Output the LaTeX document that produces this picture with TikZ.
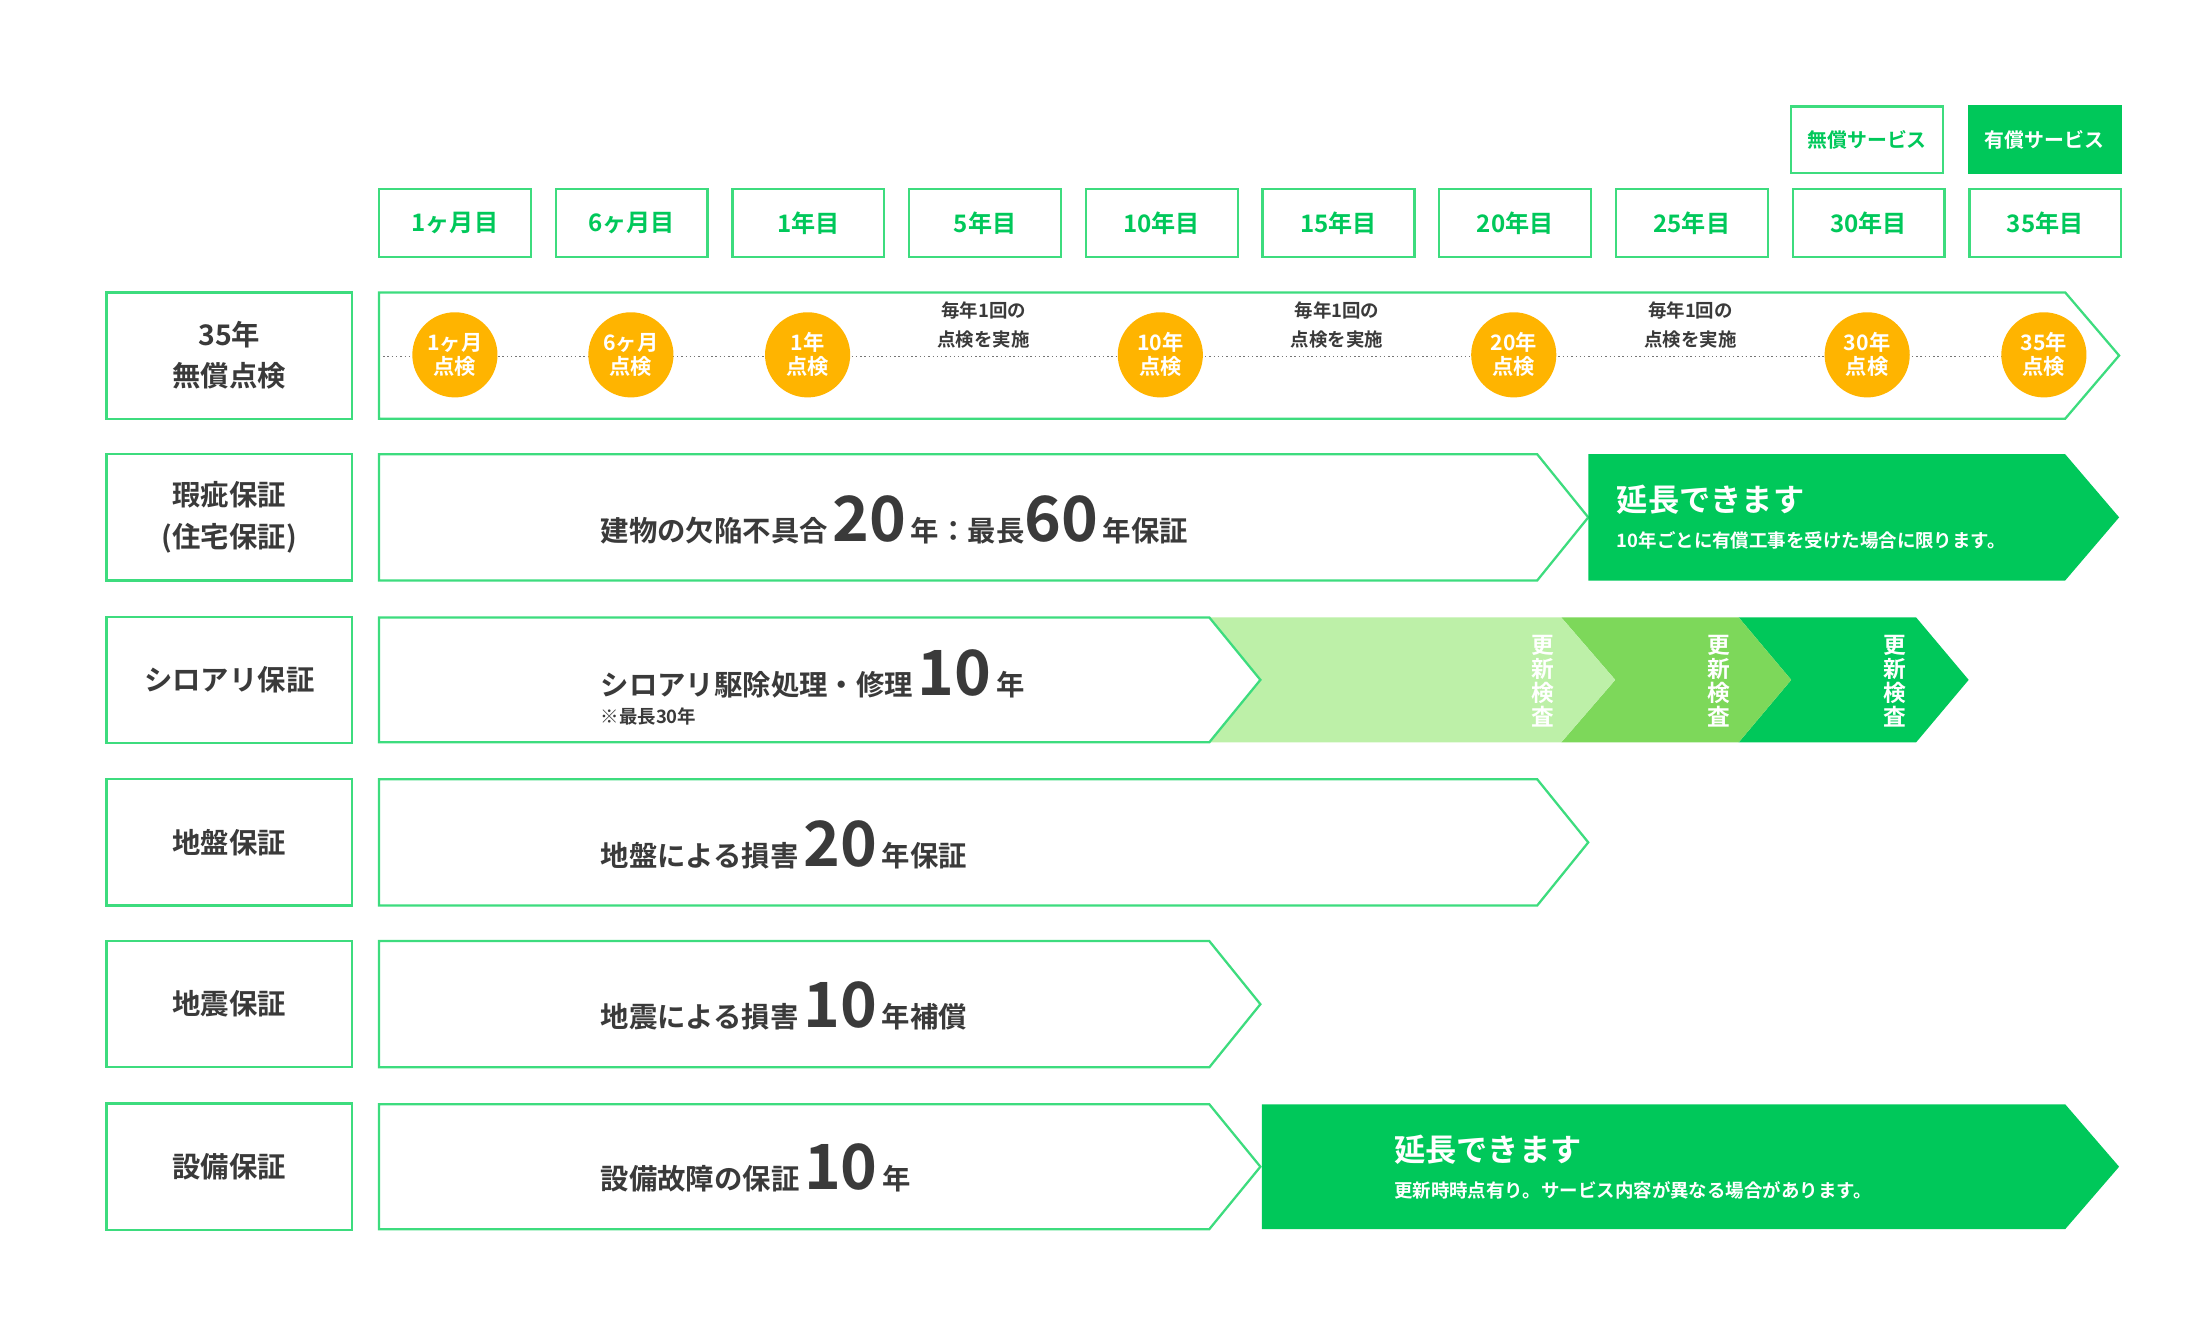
\documentclass[tikz,border=0pt]{standalone}
\usepackage{fontspec}
\setmainfont{Noto Sans CJK JP}[BoldFont={* Bold}]
\definecolor{gb}{HTML}{3DDC7E}
\definecolor{gf}{HTML}{00C85A}
\definecolor{gl}{HTML}{BDF0A8}
\definecolor{gm}{HTML}{7DD85A}
\definecolor{og}{HTML}{FFB400}
\definecolor{tx}{HTML}{3A3A3A}
\newcommand{\bignum}[1]{{\fontsize{44}{44}\selectfont #1}}
\begin{document}
\begin{tikzpicture}[x=1pt,y=-1pt,
  bx/.style={draw=gb,line width=1.6pt,fill=white},
  hdr/.style={bx,minimum width=107pt,minimum height=48pt,inner sep=0,font=\bfseries\fontsize{17}{20}\selectfont,text=gf},
  lbl/.style={bx,minimum width=173pt,minimum height=89pt,inner sep=0,align=center,font=\bfseries\fontsize{20}{29}\selectfont,text=tx},
  circ/.style={circle,fill=og,minimum size=60pt,inner sep=0,align=center,text=white,font=\bfseries\fontsize{15}{17}\selectfont},
  note/.style={align=center,text=tx,font=\bfseries\fontsize{13}{20}\selectfont},
  mt/.style={anchor=west,text=tx,font=\bfseries\fontsize{20}{24}\selectfont,inner sep=0},
  vt/.style={align=center,text=white,font=\bfseries\fontsize{16}{17}\selectfont}]
\useasboundingbox (0,0) rectangle (1550,936);
% legend
\node[hdr,font=\bfseries\fontsize{14}{16}\selectfont,minimum height=47pt] (free) at (1315.5,98.5) {無償サービス};
\node[hdr,fill=gf,draw=gf,text=white,font=\bfseries\fontsize{14}{16}\selectfont,minimum height=47pt] (paid) at (1440.5,98.5) {有償サービス};
% headers
\foreach \t [count=\i] in {1ヶ月目,6ヶ月目,1年目,5年目,10年目,15年目,20年目,25年目,30年目,35年目}{
  \node[hdr] (h\i) at ({320.5+124.5*(\i-1)},157) {\t};}
% left labels
\node[lbl] (l1) at (161.5,250.5) {35年\\無償点検};
\node[lbl] (l2) at (161.5,364.5) {瑕疵保証\\(住宅保証)};
\node[lbl] (l3) at (161.5,479) {シロアリ保証};
\node[lbl] (l4) at (161.5,593.5) {地盤保証};
\node[lbl] (l5) at (161.5,707.5) {地震保証};
\node[lbl] (l6) at (161.5,822) {設備保証};
% row1
\draw[bx] (267,206) -- (1455,206) -- (1493,250.5) -- (1455,295) -- (267,295) -- cycle;
\draw[tx!70,line width=1pt,dotted] (270,251) -- (1440,251);
\foreach \xx/\t [count=\i] in {320.5/1ヶ月,444.5/6ヶ月,569/1年,817.5/10年,1066.5/20年,1315.5/30年,1440/35年}{
  \node[circ] (c\i) at (\xx,250) {\t\\点検};}
\foreach \xx [count=\i] in {693,942,1191}{\node[note] (n\i) at (\xx,229) {毎年1回の\\点検を実施};}
% row2
\draw[bx] (267,320) -- (1083,320) -- (1119,364.5) -- (1083,409) -- (267,409) -- cycle;
\fill[gf] (1119,320) -- (1455,320) -- (1493,364.5) -- (1455,409) -- (1119,409) -- cycle;
\node[mt] (t2) at (423,366) {建物の欠陥不具合\,\bignum{20}\,年：最長\bignum{60}\,年保証};
\node[anchor=west,inner sep=0,text=white,font=\bfseries\fontsize{22}{24}\selectfont] (e2) at (1139,352) {延長できます};
\node[anchor=west,inner sep=0,text=white,font=\bfseries\fontsize{13}{15}\selectfont] (s2) at (1139,381) {10年ごとに有償工事を受けた場合に限ります。};
% row3
\fill[gf] (1225,435) -- (1350,435) -- (1387,479) -- (1350,523) -- (1225,523) -- (1262,479) -- cycle;
\fill[gm] (1100,435) -- (1225,435) -- (1262,479) -- (1225,523) -- (1100,523) -- (1138,479) -- cycle;
\fill[gl] (852,435) -- (1100,435) -- (1138,479) -- (1100,523) -- (852,523) -- (888,479) -- cycle;
\draw[bx] (267,435) -- (852,435) -- (888,479) -- (852,523) -- (267,523) -- cycle;
\foreach \xx [count=\i] in {1087,1211,1335}{\node[vt] (v\i) at (\xx,480) {更\\新\\検\\査};}
\node[mt] (t3) at (423,475) {シロアリ駆除処理・修理\,\bignum{10}\,年};
\node[mt,font=\bfseries\fontsize{13}{15}\selectfont] (t3b) at (423,505) {※最長30年};
% row4
\draw[bx] (267,549) -- (1083,549) -- (1119,593.5) -- (1083,638) -- (267,638) -- cycle;
\node[mt] (t4) at (423,595) {地盤による損害\,\bignum{20}\,年保証};
% row5
\draw[bx] (267,663) -- (852,663) -- (888,707.5) -- (852,752) -- (267,752) -- cycle;
\node[mt] (t5) at (423,709) {地震による損害\,\bignum{10}\,年補償};
% row6
\draw[bx] (267,778) -- (852,778) -- (888,822) -- (852,866) -- (267,866) -- cycle;
\fill[gf] (889,778) -- (1455,778) -- (1493,822) -- (1455,866) -- (889,866) -- cycle;
\node[mt] (t6) at (423,823) {設備故障の保証\,\bignum{10}\,年};
\node[anchor=west,inner sep=0,text=white,font=\bfseries\fontsize{22}{24}\selectfont] (e6) at (982,810) {延長できます};
\node[anchor=west,inner sep=0,text=white,font=\bfseries\fontsize{13}{15}\selectfont] (s6) at (982,839) {更新時時点有り。サービス内容が異なる場合があります。};
\end{tikzpicture}
\end{document}
